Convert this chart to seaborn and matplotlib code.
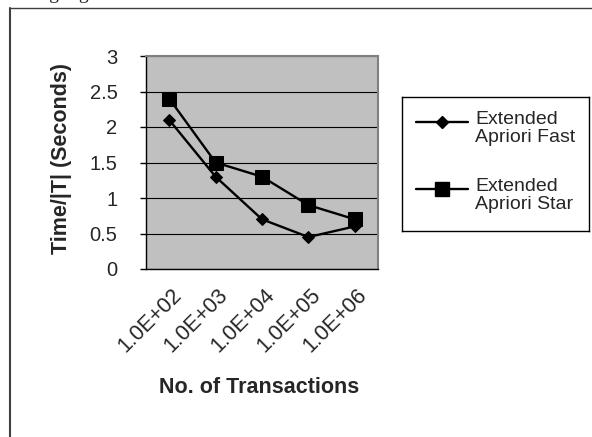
import numpy as np
import pandas as pd
import matplotlib
matplotlib.use("Agg")
import matplotlib.pyplot as plt
import matplotlib.transforms as mtrans
from matplotlib.lines import Line2D
import seaborn as sns

# data
transactions = ["1.0E+02", "1.0E+03", "1.0E+04", "1.0E+05", "1.0E+06"]
fast_times = [2.1, 1.3, 0.7, 0.45, 0.6]
star_times = [2.4, 1.5, 1.3, 0.9, 0.7]
series_names = ["Extended\nApriori Fast", "Extended\nApriori Star"]
y_ticks = [0, 0.5, 1, 1.5, 2, 2.5, 3]

W, H = 592, 437

sns.set_style("white")
plt.rcParams["font.family"] = ["Liberation Sans", "DejaVu Sans"]

fig = plt.figure(figsize=(W / 100, H / 100), dpi=100)
fig.patch.set_facecolor("white")

# plot area in pixel coords: x 146..378, y 56..269
ax = fig.add_axes([146 / W, 1 - 269 / H, 232 / W, 213 / H])
ax.set_facecolor("#C0C0C0")

df_fast = pd.DataFrame({"tx": transactions, "time": fast_times})
df_star = pd.DataFrame({"tx": transactions, "time": star_times})

sns.lineplot(data=df_fast, x="tx", y="time", ax=ax, color="black", lw=1.7,
             marker="D", markersize=6.5, markeredgecolor="black", sort=False, zorder=3)
sns.lineplot(data=df_star, x="tx", y="time", ax=ax, color="black", lw=1.7,
             marker="s", markersize=10, markeredgecolor="black", sort=False, zorder=3)

ax.set_xlim(-0.5, 4.5)
ax.set_ylim(0, 3)
ax.set_yticks(y_ticks)
ax.set_yticklabels([f"{v:g}" for v in y_ticks])
ax.yaxis.grid(True, color="black", lw=0.8)
ax.xaxis.grid(False)
ax.set_axisbelow(True)

ax.set_xticks(range(len(transactions)))
ax.set_xticks(np.arange(-0.5, len(transactions), 1), minor=True)
ax.tick_params(axis="x", which="major", length=0, pad=16.5, labelsize=15.5)
ax.tick_params(axis="x", which="minor", length=4.5, width=1, direction="out", color="black")
ax.tick_params(axis="y", length=4.5, width=1, direction="out", color="black", pad=16, labelsize=14.5, left=True)
shift = mtrans.ScaledTranslation(0.093, 0, fig.dpi_scale_trans)
ax.set_xticklabels(transactions, rotation=45, ha="right", va="center", rotation_mode="anchor")
for lbl in ax.get_xticklabels():
    lbl.set_transform(lbl.get_transform() + shift)

for side in ["top", "right"]:
    ax.spines[side].set_color("#808080")
    ax.spines[side].set_linewidth(1.5)
for side in ["left", "bottom"]:
    ax.spines[side].set_color("black")
    ax.spines[side].set_linewidth(1)

ax.set_xlabel("No. of Transactions", fontsize=15.5, fontweight="bold")
ax.xaxis.set_label_coords(0.487, -0.505)
ax.set_ylabel("Time/|T| (Seconds)", fontsize=15.5, fontweight="bold")
ax.yaxis.set_label_coords(-0.319, 0.521)

# legend box, drawn in pixel coordinates
lax = fig.add_axes([402 / W, 1 - 231 / H, 187 / W, 134 / H])
lax.set_xlim(402, 589)
lax.set_ylim(231, 97)
lax.set_xticks([])
lax.set_yticks([])
for sp in lax.spines.values():
    sp.set_color("black")
    sp.set_linewidth(1)
for name, mk, ms, ly in [(series_names[0], "D", 6.5, 122), (series_names[1], "s", 10, 189)]:
    lax.plot([416, 442, 468], [ly, ly, ly], color="black", lw=1.7, marker=mk,
             markersize=ms, markevery=[1])
    lax.text(475, ly - 11, name, ha="left", va="top", fontsize=14, linespacing=1.1)

# outer chart frame (cut off at right and bottom)
fig.add_artist(Line2D([9.5 / W, 1], [1 - 7.5 / H, 1 - 7.5 / H], transform=fig.transFigure,
                      color="#404040", lw=1))
fig.add_artist(Line2D([9.5 / W, 9.5 / W], [0, 1 - 7.5 / H], transform=fig.transFigure,
                      color="#404040", lw=1.5))

# descenders of body text above the chart
fig.text(34 / W, 1 + 1 / H, "ing ing", fontsize=14, va="baseline", ha="left",
         family=["Liberation Serif", "DejaVu Serif"])

fig.savefig("out.png", dpi=100)
